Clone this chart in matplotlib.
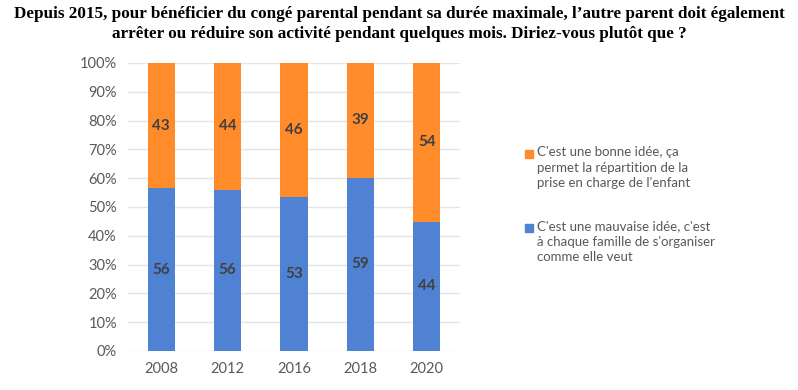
import numpy as np
import matplotlib.pyplot as plt
from matplotlib.patches import Rectangle

years = ["2008", "2012", "2016", "2018", "2020"]
bonne_idee = [43, 44, 46, 39, 54]
mauvaise_idee = [56, 56, 53, 59, 44]
labels = ["C'est une bonne idée, ça\npermet la répartition de la\nprise en charge de l'enfant",
          "C'est une mauvaise idée, c'est\nà chaque famille de s'organiser\ncomme elle veut"]
title = ("Depuis 2015, pour bénéficier du congé parental pendant sa durée maximale, l’autre parent doit également\n"
         "arrêter ou réduire son activité pendant quelques mois. Diriez-vous plutôt que ?")

orange = "#FF8B2A"
blue = "#5082D4"
plt.rcParams['font.family'] = ['Lato', 'DejaVu Sans']

fig = plt.figure(figsize=(7.98, 3.90), dpi=100)
ax = fig.add_axes([128 / 798, 1 - 351 / 390, 332 / 798, 288 / 390])

tot = np.array(bonne_idee) + np.array(mauvaise_idee)
b = np.array(mauvaise_idee) / tot * 100
o = np.array(bonne_idee) / tot * 100
x = np.arange(len(years))
ax.bar(x, b, width=0.41, color=blue, zorder=2)
ax.bar(x, o, bottom=b, width=0.41, color=orange, zorder=2)
for i in range(len(years)):
    ax.text(x[i], b[i] / 2, str(mauvaise_idee[i]), ha="center", va="center",
            fontsize=11, fontweight="bold", color="#404040")
    ax.text(x[i], b[i] + o[i] / 2, str(bonne_idee[i]), ha="center", va="center",
            fontsize=11, fontweight="bold", color="#404040")

ax.set_xlim(-0.5, len(years) - 0.5)
ax.set_ylim(0, 100)
ax.set_yticks(range(0, 101, 10))
ax.set_yticklabels([f"{v}%" for v in range(0, 101, 10)])
ax.set_xticks(x)
ax.set_xticklabels(years)
ax.tick_params(length=0, labelsize=10.5, colors="#595959", pad=8)
ax.grid(axis="y", color="#E5E5E5", linewidth=1, zorder=0)
for s in ax.spines.values():
    s.set_visible(False)

fig.text(0.5, 1 - 6 / 390, title, ha="center", va="top", fontsize=12.3,
         fontweight="bold", family="Liberation Serif", linespacing=1.3)

# legende
for lab, col, y in [(labels[0], orange, 154), (labels[1], blue, 228)]:
    fig.patches.append(Rectangle((525 / 798, 1 - (y + 4) / 390), 8 / 798, 8 / 390,
                                 transform=fig.transFigure, color=col))
    fig.text(537 / 798, 1 - (y - 8) / 390, lab, ha="left", va="top", fontsize=9.5,
             color="#595959", linespacing=1.35)

fig.savefig("out.png")
